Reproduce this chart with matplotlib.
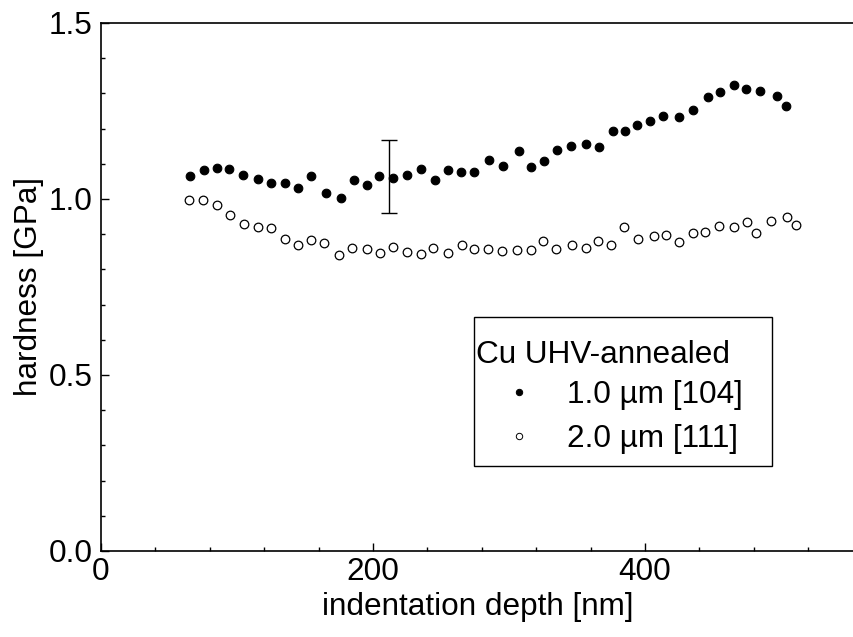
import matplotlib
matplotlib.use("Agg")
import matplotlib.pyplot as plt
from matplotlib.patches import Rectangle
from matplotlib.lines import Line2D
from matplotlib.ticker import MultipleLocator

plt.rcParams["font.family"] = ["Liberation Sans", "DejaVu Sans"]
plt.rcParams["font.size"] = 22.7

# 1.0 um film, [104] orientation
depth_104 = [65.4, 75.5, 85.5, 94.3, 104.6, 115.2, 125.2, 135.3, 144.6, 154.6,
             165.2, 176.3, 186.3, 195.6, 204.6, 214.9, 225.0, 235.3, 245.6, 254.9,
             264.7, 274.3, 285.3, 295.8, 307.1, 316.2, 325.5, 335.3, 345.8, 356.8,
             366.0, 376.2, 385.3, 393.9, 403.5, 413.2, 424.8, 435.3, 446.3, 455.1,
             465.2, 474.3, 484.6, 496.8, 503.9]
hard_104 = [1.065, 1.081, 1.087, 1.084, 1.067, 1.057, 1.045, 1.045, 1.030, 1.064,
            1.016, 1.003, 1.054, 1.040, 1.066, 1.059, 1.068, 1.085, 1.053, 1.082,
            1.076, 1.077, 1.110, 1.093, 1.136, 1.092, 1.108, 1.140, 1.150, 1.156,
            1.147, 1.193, 1.194, 1.211, 1.223, 1.235, 1.234, 1.252, 1.290, 1.303,
            1.323, 1.312, 1.307, 1.294, 1.265]

# 2.0 um film, [111] orientation
depth_111 = [64.9, 74.8, 85.1, 94.9, 104.9, 115.2, 125.0, 135.3, 145.1, 154.2,
             164.2, 174.8, 184.8, 195.4, 204.9, 214.9, 224.8, 235.1, 244.4, 255.0,
             265.3, 274.5, 284.3, 294.9, 305.9, 316.0, 324.8, 334.6, 346.1, 356.4,
             365.4, 374.8, 384.6, 394.9, 406.6, 415.7, 425.2, 435.5, 444.1, 454.6,
             465.7, 475.2, 481.6, 492.4, 504.4, 511.3]
hard_111 = [0.998, 0.998, 0.982, 0.955, 0.929, 0.921, 0.919, 0.887, 0.870, 0.884,
            0.875, 0.841, 0.862, 0.859, 0.847, 0.864, 0.850, 0.845, 0.861, 0.846,
            0.869, 0.858, 0.859, 0.853, 0.856, 0.854, 0.882, 0.859, 0.869, 0.862,
            0.881, 0.870, 0.920, 0.887, 0.896, 0.897, 0.879, 0.904, 0.906, 0.923,
            0.920, 0.936, 0.904, 0.937, 0.950, 0.927]

# typical scatter shown as a single error bar
err_depth = 212
err_center = 1.064
err_half = 0.103

legend_title = "Cu UHV-annealed"
legend_labels = ["1.0 µm [104]", "2.0 µm [111]"]

fig = plt.figure(figsize=(8.54, 6.37), dpi=100)
W, H = 854, 637
ax = fig.add_axes([101 / W, (H - 551) / H, (W - 101) / W, (551 - 23) / H])

ax.plot(depth_104, hard_104, "o", ms=6.2, mfc="black", mec="black", mew=0.8,
        linestyle="none", clip_on=False)
ax.plot(depth_111, hard_111, "o", ms=6.2, mfc="white", mec="black", mew=0.9,
        linestyle="none", clip_on=False)
ax.errorbar([err_depth], [err_center], yerr=[err_half], fmt="none",
            ecolor="black", elinewidth=1.0, capsize=6, capthick=1.0)

ax.set_xlim(0, (W - 101) / 1.36)
ax.set_ylim(0, 1.5)
ax.xaxis.set_major_locator(MultipleLocator(200))
ax.xaxis.set_minor_locator(MultipleLocator(40))
ax.yaxis.set_major_locator(MultipleLocator(0.5))
ax.yaxis.set_minor_locator(MultipleLocator(0.1))
ax.yaxis.set_major_formatter(matplotlib.ticker.FormatStrFormatter("%.1f"))

ax.spines["right"].set_visible(False)
for s in ("left", "bottom", "top"):
    ax.spines[s].set_linewidth(1.2)
ax.tick_params(which="both", direction="in", top=False, right=False, width=1.0)
ax.tick_params(which="major", length=5.5)
ax.tick_params(which="minor", length=3.0)
ax.tick_params(axis="x", which="major", pad=4)
ax.tick_params(axis="y", which="major", pad=6)

ax.set_xlabel("indentation depth [nm]", labelpad=4)
ax.set_ylabel("hardness [GPa]", labelpad=3)

# legend box drawn by hand in pixel coordinates
def fx(px):
    return px / W

def fy(py):
    return (H - py) / H

fig.add_artist(Rectangle((fx(474.3), fy(465.7)), (772.3 - 474.3) / W,
                         (465.7 - 317.3) / H, transform=fig.transFigure,
                         facecolor="white", edgecolor="black", linewidth=1.0))
fig.text(fx(476.5), fy(351.7), legend_title, ha="left", va="center_baseline")
legend_styles = [dict(mfc="black", mec="black"), dict(mfc="white", mec="black")]
for i, (lab, st) in enumerate(zip(legend_labels, legend_styles)):
    yc = 391.5 + i * 44.5
    fig.add_artist(Line2D([fx(519.3)], [fy(yc)], marker="o", ms=4.6, mew=0.7,
                          linestyle="none", transform=fig.transFigure, **st))
    fig.text(fx(567.5), fy(yc), lab, ha="left", va="center_baseline")

fig.savefig("out.png", dpi=100)
